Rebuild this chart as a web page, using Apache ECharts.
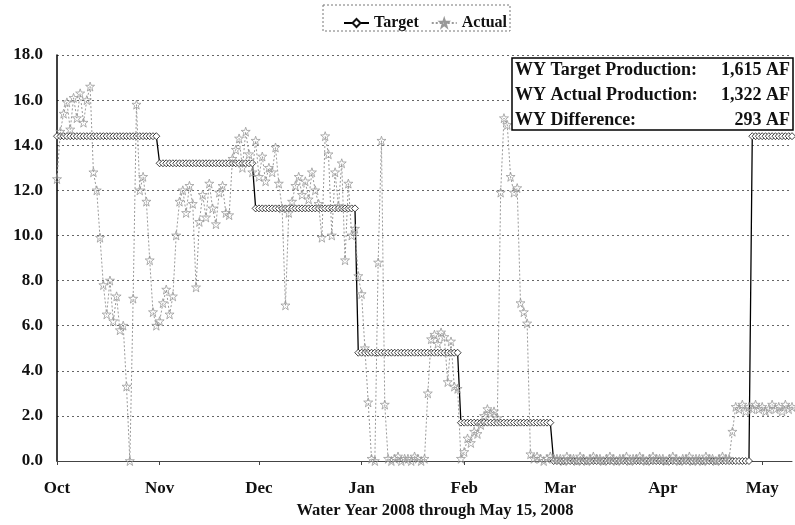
<!DOCTYPE html>
<html>
<head>
<meta charset="utf-8">
<script src="https://cdn.jsdelivr.net/npm/echarts@6/dist/echarts.min.js"></script>
<style>html,body{margin:0;padding:0;background:#fff;}#c{width:795px;height:525px;}</style>
</head>
<body>
<div id="c"></div>
<script>
// Month tick positions (day index from Oct 1, 2007) and labels
const monthDays = [0, 31, 61, 92, 123, 152, 183, 213];
const monthLabels = ['Oct', 'Nov', 'Dec', 'Jan', 'Feb', 'Mar', 'Apr', 'May'];

// Target: monthly step values (AF/day) and the day each step starts
const targetStartDay = [0, 31, 60, 91, 122, 150, 210];
const targetValue = [14.4, 13.2, 11.2, 4.8, 1.7, 0.0, 14.4];

// Actual daily production (AF/day)
const actualOct = [12.5, 14.6, 15.4, 15.9, 14.7, 16.1, 15.2, 16.3, 15.0, 16.0, 16.6, 12.8, 12.0, 9.9, 7.8, 6.5, 8.0, 6.2, 7.3, 5.8, 6.0, 3.3, 0.0, 7.2, 15.8, 12.0, 12.6, 11.5, 8.9, 6.6, 6.0];
const actualNov = [6.2, 7.0, 7.6, 6.5, 7.3, 10.0, 11.5, 12.0, 11.0, 12.2, 11.4, 7.7, 10.6, 11.8, 10.8, 12.3, 11.2, 10.5, 11.9, 12.2, 11.0, 10.9, 13.4, 13.8, 14.3, 13.0, 14.6, 13.6, 12.8, 14.2];
const actualDec = [12.6, 13.5, 12.4, 13.0, 12.8, 13.9, 12.3, 11.2, 6.9, 11.0, 11.5, 12.2, 12.6, 11.8, 12.4, 11.6, 12.8, 12.0, 11.4, 9.9, 14.4, 13.6, 10.0, 12.8, 11.3, 13.2, 8.9, 12.3, 10.0, 10.3, 8.2];
const actualJan = [7.4, 5.0, 2.6, 0.1, 0.0, 8.8, 14.2, 2.5, 0.1, 0.0, 0.1, 0.2, 0.0, 0.1, 0.1, 0.0, 0.2, 0.1, 0.0, 0.1, 3.0, 5.4, 5.6, 5.2, 5.7, 5.5, 3.5, 5.3, 3.3, 3.2, 0.1];
const actualFeb = [0.4, 1.0, 0.8, 1.3, 1.2, 1.6, 2.0, 2.3, 2.1, 2.2, 1.9, 11.9, 15.2, 14.9, 12.6, 11.9, 12.1, 7.0, 6.6, 6.1, 0.3, 0.1, 0.2, 0.1, 0.0, 0.1, 0.2, 0.1, 0.1];
const actualMar = [0.1, 0.0, 0.2, 0.1, 0.1, 0.0, 0.2, 0.1, 0.0, 0.1, 0.2, 0.1, 0.1, 0.0, 0.1, 0.2, 0.1, 0.0, 0.1, 0.1, 0.2, 0.0, 0.1, 0.1, 0.2, 0.1, 0.0, 0.1, 0.2, 0.1, 0.1];
const actualApr = [0.1, 0.0, 0.1, 0.2, 0.1, 0.0, 0.1, 0.1, 0.2, 0.0, 0.1, 0.1, 0.0, 0.2, 0.1, 0.1, 0.0, 0.1, 0.2, 0.1, 0.1, 1.3, 2.4, 2.3, 2.5, 2.2, 2.4, 2.3, 2.5, 2.3];
const actualMay = [2.4, 2.2, 2.3, 2.5, 2.3, 2.4, 2.2, 2.5, 2.3, 2.4, 2.3, 2.2, 2.4, 2.3, 2.5];

const summaryLabels = ['WY Target Production:', 'WY Actual Production:', 'WY Difference:'];
const summaryValues = ['1,615 AF', '1,322 AF', '293 AF'];

const actual = [].concat(actualOct, actualNov, actualDec, actualJan, actualFeb, actualMar, actualApr, actualMay);
const actualData = actual.map((v, i) => [i, v]);
const targetData = actual.map((_, d) => {
  let k = 0;
  for (let j = 0; j < targetStartDay.length; j++) if (targetStartDay[j] <= d) k = j;
  return [d, targetValue[k]];
});

const FONT = '"Liberation Serif", "Times New Roman", serif';
const chart = echarts.init(document.getElementById('c'), null, {renderer: 'canvas'});

const graphics = [
  {type: 'rect', z: 50, shape: {x: 323, y: 5, width: 187, height: 26},
   style: {fill: 'none', stroke: '#777', lineWidth: 1, lineDash: [2, 2]}},
  {type: 'rect', z: 50, shape: {x: 512, y: 58, width: 281, height: 72},
   style: {fill: '#fff', stroke: '#000', lineWidth: 1.5}},
  {type: 'text', z: 51, style: {x: 435, y: 511, text: 'Water Year 2008 through May 15, 2008',
    font: 'bold 16.5px ' + FONT, fill: '#111', textAlign: 'center', textVerticalAlign: 'middle'}}
];
summaryLabels.forEach((t, i) => {
  graphics.push({type: 'text', z: 52, style: {x: 515, y: 70 + i * 25, text: t,
    font: 'bold 18px ' + FONT, fill: '#111', textAlign: 'left', textVerticalAlign: 'middle'}});
  graphics.push({type: 'text', z: 52, style: {x: 790, y: 70 + i * 25, text: summaryValues[i],
    font: 'bold 18px ' + FONT, fill: '#111', textAlign: 'right', textVerticalAlign: 'middle'}});
});

const starPath = 'path://M0,-5L1.2,-1.6L5,-1.6L2,0.7L3.1,4.5L0,2.2L-3.1,4.5L-2,0.7L-5,-1.6L-1.2,-1.6Z';

chart.setOption({
  animation: false,
  backgroundColor: '#fff',
  textStyle: {fontFamily: FONT},
  grid: {left: 57, right: 3, top: 55, bottom: 64, containLabel: false, outerBoundsMode: 'none'},
  legend: {
    data: ['Target', 'Actual'],
    left: 338, top: 10, itemWidth: 25, itemHeight: 10, itemGap: 12,
    textStyle: {fontFamily: FONT, fontSize: 16, fontWeight: 'bold', color: '#111'}
  },
  xAxis: {
    type: 'value', min: 0, max: 222,
    axisLine: {show: true, lineStyle: {color: '#444', width: 1}},
    axisTick: {show: true, length: 4, customValues: monthDays, lineStyle: {color: '#444'}},
    axisLabel: {customValues: monthDays, margin: 19, fontFamily: FONT, fontSize: 17, fontWeight: 'bold', color: '#111',
      formatter: v => monthLabels[monthDays.indexOf(Math.round(v))] || ''},
    splitLine: {show: false}
  },
  yAxis: {
    type: 'value', min: 0, max: 18, interval: 2,
    axisLine: {show: true, lineStyle: {color: '#000', width: 1.5}},
    axisTick: {show: false},
    axisLabel: {margin: 14, fontFamily: FONT, fontSize: 17, fontWeight: 'bold', color: '#111',
      formatter: v => v.toFixed(1)},
    splitLine: {show: true, lineStyle: {color: '#666', width: 1, type: [2, 3]}}
  },
  series: [
    {
      name: 'Target', type: 'line', data: targetData,
      symbol: 'diamond', symbolSize: 7, showAllSymbol: true,
      lineStyle: {color: '#000', width: 1.3},
      itemStyle: {color: '#fff', borderColor: '#111', borderWidth: 0.8},
      z: 3
    },
    {
      name: 'Actual', type: 'line', data: actualData,
      symbol: starPath, symbolSize: 9, showAllSymbol: true,
      lineStyle: {color: '#999', width: 1, type: [2, 2]},
      itemStyle: {color: 'rgba(255,255,255,0)', borderColor: '#999', borderWidth: 0.8},
      z: 4
    }
  ],
  graphic: graphics
});
</script>
</body>
</html>
